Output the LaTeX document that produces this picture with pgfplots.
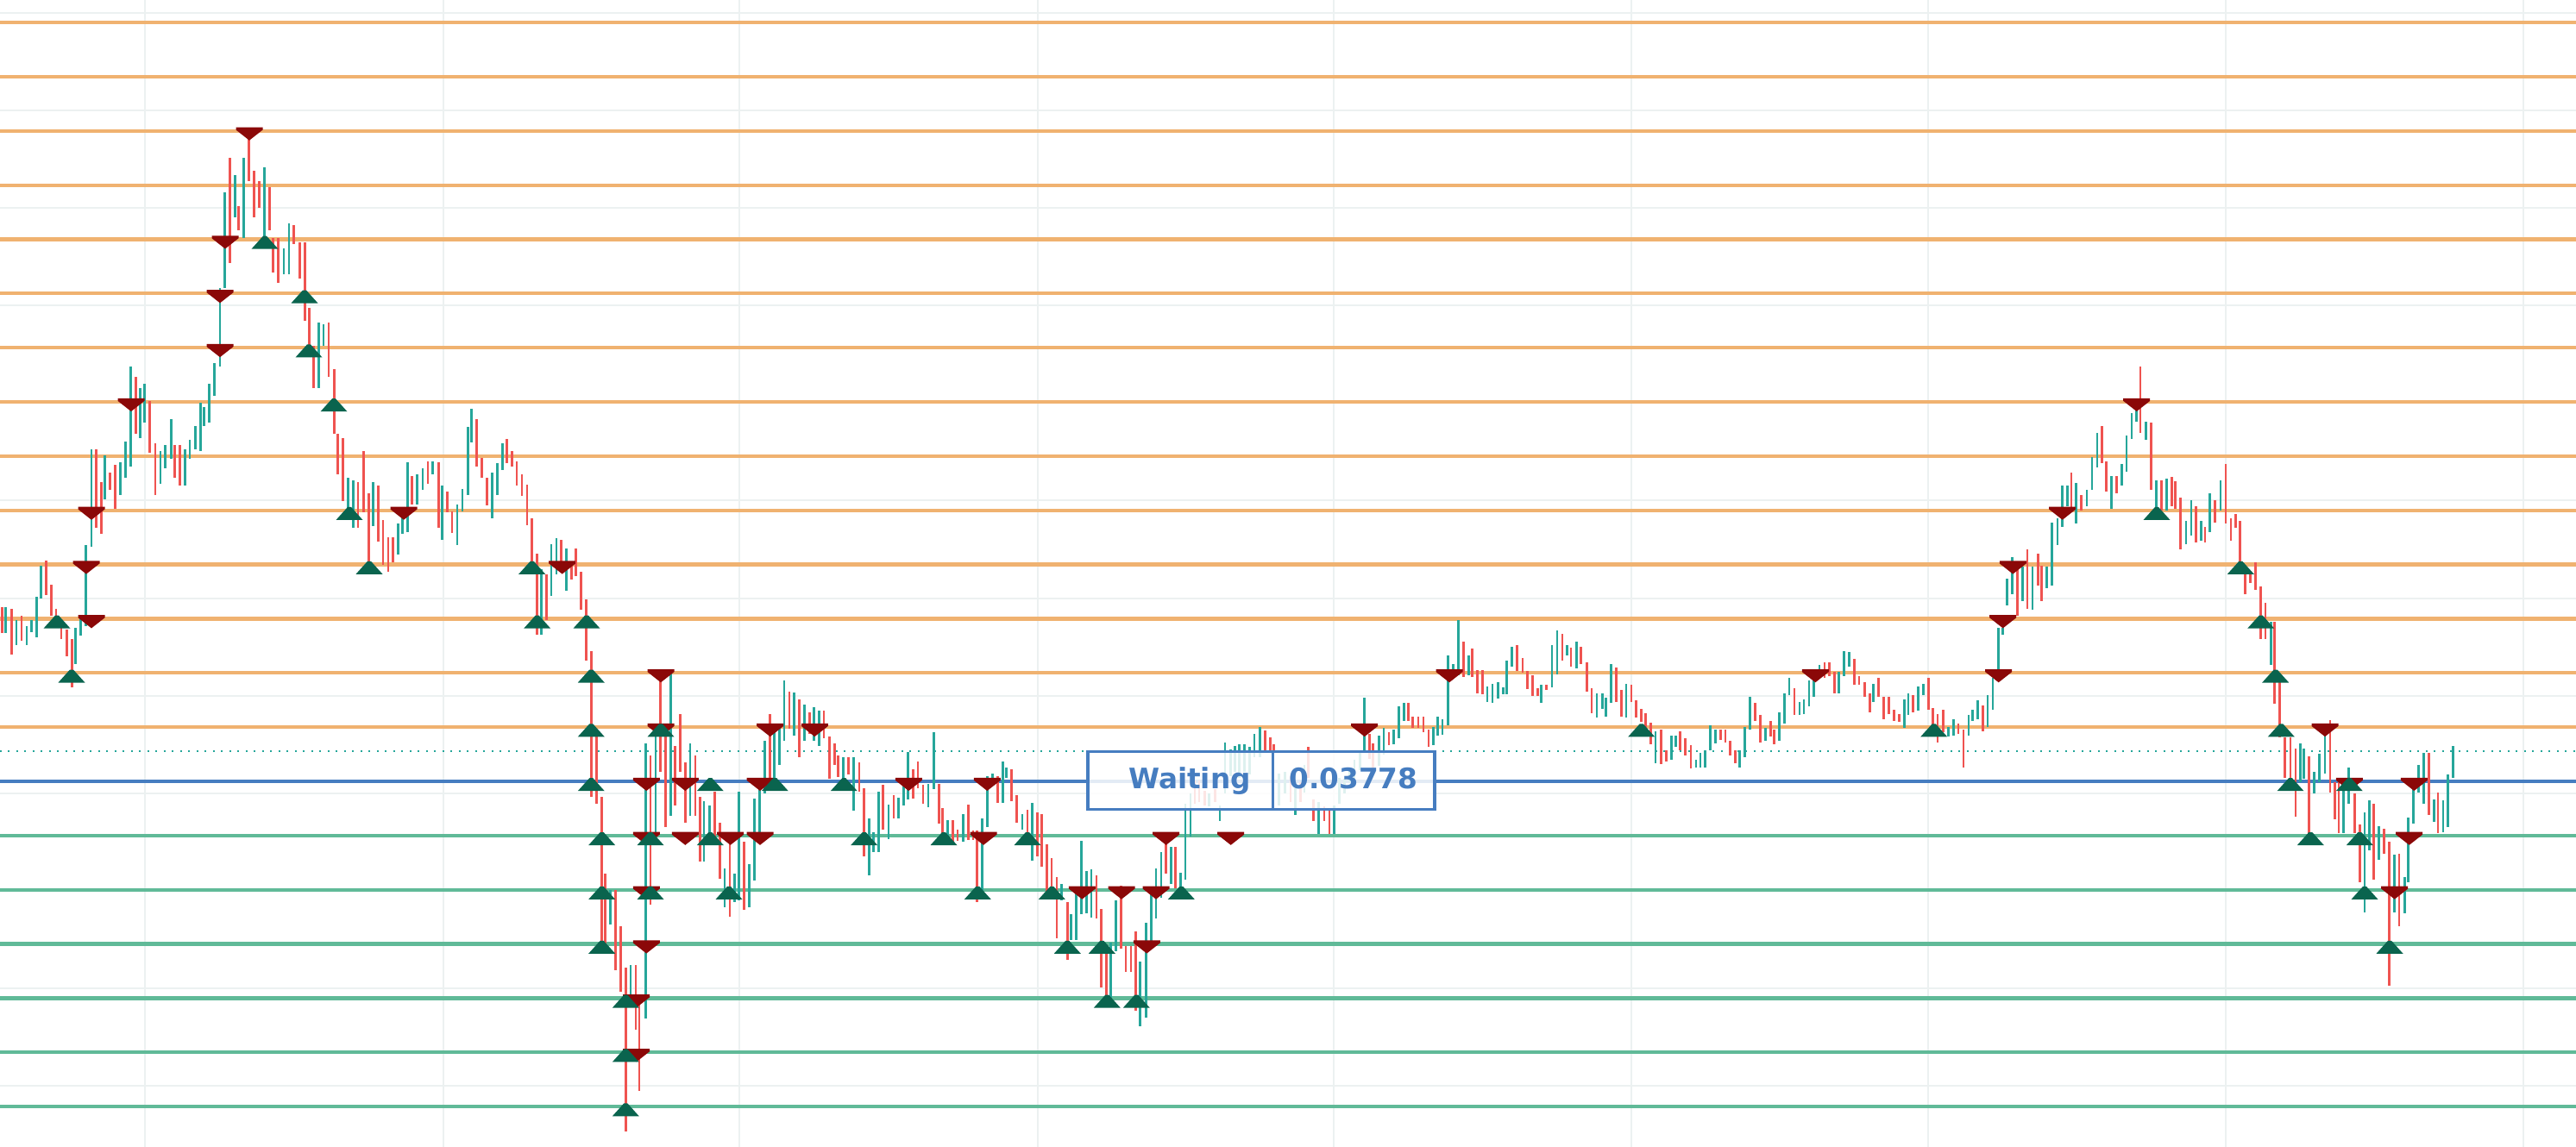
\documentclass[border=0pt]{standalone}
\usepackage{pgfplots}
\pgfplotsset{compat=1.18}
\usepackage{pgfplotstable}
\usepackage{fontspec}
\setmainfont{DejaVu Sans}
\definecolor{cred}{RGB}{239,83,80}
\definecolor{cgreen}{RGB}{38,166,154}
\definecolor{lvlorange}{RGB}{240,178,112}
\definecolor{lvlgreen}{RGB}{96,186,152}
\definecolor{lvlblue}{RGB}{70,125,192}
\definecolor{mred}{RGB}{139,8,8}
\definecolor{mgreen}{RGB}{10,100,78}
\definecolor{gridc}{RGB}{236,241,241}
\pgfdeclareplotmark{sellm}{%
  \pgfpathmoveto{\pgfpoint{-1.55mm}{0.42mm}}%
  \pgfpathlineto{\pgfpoint{1.55mm}{0.42mm}}%
  \pgfpathlineto{\pgfpoint{1.55mm}{0.12mm}}%
  \pgfpathlineto{\pgfpoint{0mm}{-1.1mm}}%
  \pgfpathlineto{\pgfpoint{-1.55mm}{0.12mm}}%
  \pgfpathclose\pgfusepathqfill}
\pgfdeclareplotmark{buym}{%
  \pgfpathmoveto{\pgfpoint{-0.2mm}{0.38mm}}%
  \pgfpathlineto{\pgfpoint{0.2mm}{0.38mm}}%
  \pgfpathlineto{\pgfpoint{1.55mm}{-1.12mm}}%
  \pgfpathlineto{\pgfpoint{-1.55mm}{-1.12mm}}%
  \pgfpathclose\pgfusepathqfill}

\pgfplotstableread{
x lo hi c
2.7 2.73 3.22 0
6.7 2.74 3.22 1
13.3 2.34 3.19 0
19.0 2.52 2.98 1
25.0 2.59 3.05 0
31.0 2.52 2.87 1
36.7 2.76 2.98 1
42.7 2.66 3.40 1
47.3 3.37 3.97 1
53.3 3.44 4.07 0
59.3 3.05 3.63 0
65.0 2.91 3.19 0
71.0 2.62 2.87 0
77.3 2.30 2.80 0
83.3 1.74 2.62 0
87.3 2.16 2.84 1
93.3 2.69 3.01 1
99.3 2.87 4.36 1
106.0 4.32 6.13 1
111.7 4.68 6.13 0
117.3 4.57 5.52 0
121.7 5.21 6.02 1
127.3 5.38 5.70 0
133.3 5.03 5.84 0
139.3 5.28 5.88 1
145.7 5.60 6.27 1
151.7 5.81 7.65 1
157.7 6.41 7.47 0
162.3 6.34 7.26 1
167.7 6.62 7.33 1
173.3 6.06 7.01 0
180.0 5.28 6.23 0
186.0 5.49 6.09 1
191.7 5.77 6.20 1
198.3 5.95 6.69 1
202.3 5.60 6.20 0
208.3 5.45 6.20 0
214.3 5.45 6.13 1
220.0 5.95 6.30 1
226.7 6.13 6.55 1
232.3 6.09 6.98 1
236.7 6.55 6.90 1
242.7 6.62 7.33 1
248.3 7.12 7.72 1
255.0 7.65 9.10 1
260.7 9.10 10.87 1
266.7 9.56 11.50 0
272.7 10.41 11.19 1
276.7 10.16 10.62 0
282.7 10.02 11.50 1
288.7 11.08 12.00 0
294.7 10.41 11.26 0
300.7 10.58 11.08 0
306.7 10.02 11.33 1
312.7 10.16 10.97 0
316.7 9.38 10.02 0
322.7 9.20 10.02 0
329.0 9.35 9.84 1
335.0 9.35 10.30 1
340.7 9.91 10.27 0
347.3 9.28 9.95 0
353.3 8.50 9.95 0
358.3 8.04 8.74 0
363.3 7.26 8.04 0
369.3 7.26 8.46 1
375.0 8.04 8.43 1
381.0 7.47 8.46 0
387.3 6.41 7.61 0
391.7 5.67 6.41 0
397.3 5.17 6.34 0
403.3 4.99 5.60 1
409.3 4.68 5.56 1
415.0 4.68 5.52 0
421.7 4.96 6.09 0
427.7 4.00 5.31 0
432.3 4.71 5.52 1
438.3 4.43 5.45 0
444.0 4.00 4.82 0
450.0 3.86 4.50 0
455.7 4.04 4.50 0
461.7 4.18 4.75 1
466.7 4.57 4.99 1
472.7 4.60 5.88 1
477.7 5.10 5.63 0
483.3 5.10 5.67 1
490.0 5.38 5.77 1
496.0 5.49 5.91 0
501.7 5.67 5.91 1
508.3 4.68 5.88 0
512.3 4.46 5.45 1
518.3 4.96 5.35 0
524.0 4.58 4.98 0
530.0 4.36 5.11 1
536.0 4.98 5.40 1
542.3 5.29 6.54 1
546.7 6.25 6.88 1
552.3 5.80 6.69 0
558.3 5.60 5.96 0
564.3 5.09 5.60 0
570.7 4.86 5.69 1
576.7 5.29 5.87 1
582.7 5.74 6.23 1
587.3 5.87 6.31 0
593.3 5.81 6.09 0
599.0 5.45 5.91 0
605.0 5.27 5.66 0
611.0 4.73 5.47 0
616.7 4.04 4.85 0
622.7 2.71 4.20 0
627.3 2.71 3.91 1
633.3 2.98 3.82 0
639.0 3.42 4.38 1
645.0 3.82 4.49 1
650.7 3.87 4.46 0
656.7 3.51 4.29 1
662.7 3.73 4.06 0
667.7 3.78 4.29 0
673.3 3.17 3.87 0
679.3 2.22 3.35 0
685.3 -0.28 2.40 0
691.7 -0.41 0.84 0
697.7 -3.08 -0.28 0
701.7 -2.99 -1.70 0
707.7 -2.64 -2.01 1
713.3 -3.48 -2.01 0
719.3 -3.88 -2.68 0
725.3 -6.46 -3.44 0
731.0 -4.06 -3.39 1
737.0 -4.59 -3.39 0
741.0 -5.71 -3.93 0
748.3 -4.37 0.70 1
754.0 -2.28 0.48 0
760.0 -0.99 0.88 1
765.7 0.17 1.91 0
771.7 -0.85 0.88 0
777.7 -0.63 2.00 1
782.7 -0.45 0.66 0
788.3 0.17 1.24 0
794.3 -0.77 0.35 0
800.0 -0.63 0.70 1
806.0 -0.63 0.48 0
811.7 -1.48 -0.28 0
816.0 -1.48 -0.36 1
822.7 -1.12 -0.45 1
828.3 -1.12 -0.19 0
834.3 -1.79 -0.77 0
840.0 -2.32 -1.61 1
846.0 -2.50 -1.08 0
851.7 -2.23 -1.70 1
856.7 -2.19 -0.19 1
862.7 -2.37 -1.12 0
868.3 -2.32 -1.52 1
874.3 -1.83 -0.32 1
880.7 -1.08 -0.05 1
886.7 -0.23 0.75 1
892.7 0.04 1.24 0
897.7 -0.05 1.02 1
903.3 0.30 1.02 1
909.0 0.75 1.86 1
915.0 0.97 1.66 0
920.7 0.84 1.64 1
926.7 0.44 1.51 0
932.7 0.75 1.42 1
938.3 0.88 1.28 0
943.3 0.75 1.37 1
949.3 0.66 1.30 1
955.0 0.79 1.30 0
961.7 0.04 0.82 0
967.7 0.30 0.70 0
971.7 0.08 0.48 0
977.7 -0.01 0.44 1
983.3 0.13 0.44 0
989.3 -0.54 0.44 1
996.0 -0.19 0.35 0
1001.7 -1.39 -0.12 0
1007.3 -1.74 -0.68 1
1012.3 -1.30 -0.94 1
1018.3 -1.30 -0.19 1
1023.3 -0.89 -0.07 0
1030.0 -1.07 -0.43 1
1036.0 -0.68 -0.25 0
1041.7 -0.68 -0.31 1
1047.7 -0.44 -0.07 1
1052.3 -0.33 0.54 1
1058.3 -0.32 0.22 0
1064.0 -0.12 0.37 0
1070.0 -0.41 -0.07 0
1076.0 -0.47 -0.04 1
1082.3 -0.15 0.90 1
1088.3 -0.78 -0.04 0
1092.7 -1.08 -0.49 0
1098.3 -1.02 -0.72 1
1104.3 -1.13 -0.72 0
1110.0 -1.10 -0.89 0
1116.7 -1.12 -0.60 1
1122.7 -1.08 -0.43 0
1128.0 -1.08 -0.91 0
1132.7 -2.22 -0.91 0
1138.3 -2.08 -0.68 1
1144.3 -0.84 0.09 1
1150.7 -0.02 0.14 1
1156.7 -0.39 0.09 0
1162.7 -0.39 0.37 1
1166.7 0.06 0.25 1
1172.7 -0.36 0.22 0
1178.7 -0.76 -0.25 0
1185.0 -0.89 -0.60 1
1191.0 -0.94 -0.52 0
1196.7 -1.47 -0.40 1
1202.7 -1.39 -0.57 0
1207.3 -1.58 -0.60 0
1213.3 -2.14 -1.16 0
1219.0 -2.11 -1.42 0
1225.0 -2.90 -1.76 0
1230.7 -2.19 -1.90 1
1237.3 -3.30 -2.22 0
1241.7 -2.93 -2.45 1
1247.3 -2.93 -2.06 1
1253.3 -2.45 -1.10 1
1259.3 -2.43 -1.66 1
1265.0 -2.51 -1.63 1
1271.0 -2.53 -1.74 0
1276.7 -3.80 -2.35 0
1282.7 -4.04 -3.14 0
1287.3 -4.04 -2.98 1
1293.3 -3.14 -2.19 1
1299.3 -3.09 -1.92 0
1305.0 -3.51 -3.04 0
1311.0 -3.51 -3.04 0
1316.7 -4.23 -2.77 0
1321.7 -4.52 -3.33 1
1328.3 -4.36 -2.61 1
1334.3 -2.98 -2.08 1
1340.0 -2.53 -1.61 1
1346.0 -2.14 -1.31 1
1351.7 -1.71 -1.08 0
1357.3 -1.90 -1.21 1
1362.3 -1.98 -1.21 0
1368.3 -2.06 -1.69 1
1374.0 -1.82 -0.41 1
1380.0 -1.02 -0.22 1
1385.0 -0.41 0.02 0
1390.0 -0.38 0.02 0
1396.7 -0.44 -0.17 0
1401.7 -0.46 -0.22 1
1408.3 -0.38 -0.14 0
1414.0 -0.73 -0.44 1
1420.0 -0.22 0.71 1
1426.7 0.10 0.59 1
1431.7 0.18 0.65 1
1436.7 0.07 0.68 1
1442.7 0.18 0.69 1
1448.3 0.12 0.63 1
1454.0 0.44 0.87 1
1460.7 0.44 1.00 1
1466.7 0.57 0.94 0
1472.7 0.57 0.81 0
1476.7 0.52 0.68 0
1482.7 -0.44 0.15 1
1489.3 -0.22 0.18 1
1496.0 -0.38 0.10 0
1501.7 -0.62 -0.12 1
1507.3 -0.38 -0.01 0
1512.0 -0.20 0.30 1
1516.7 0.07 0.63 0
1522.7 -0.73 -0.33 0
1528.3 -0.97 -0.38 1
1535.0 -0.73 -0.46 0
1541.0 -0.97 -0.54 0
1546.7 -0.97 -0.44 1
1552.7 -0.41 0.07 1
1558.3 -0.22 0.04 1
1564.3 -0.01 0.20 1
1570.0 0.04 0.39 1
1576.7 0.20 0.55 1
1581.7 0.52 1.55 1
1587.3 0.42 0.88 0
1591.7 0.26 0.70 0
1598.3 0.29 0.85 1
1604.0 0.50 0.99 1
1610.0 0.67 0.90 0
1615.7 0.69 0.96 1
1621.7 0.80 1.39 1
1627.7 1.12 1.44 1
1632.3 1.12 1.44 0
1637.7 0.99 1.20 0
1644.0 0.99 1.19 0
1650.0 0.91 1.19 0
1656.0 0.64 0.96 0
1661.7 0.67 1.01 1
1666.7 0.85 1.20 1
1672.0 0.86 1.15 1
1678.3 1.04 2.33 1
1684.3 1.95 2.17 1
1690.7 1.95 2.97 1
1696.7 1.93 2.57 0
1702.3 1.95 2.33 1
1706.7 1.92 2.45 0
1712.7 1.63 2.06 0
1718.3 1.60 2.06 0
1724.0 1.47 1.75 1
1730.0 1.45 1.79 1
1736.7 1.52 1.83 1
1742.3 1.60 1.74 1
1746.7 1.60 2.22 1
1752.3 2.11 2.49 1
1758.3 2.03 2.52 0
1765.0 2.01 2.28 0
1770.7 1.71 2.03 0
1776.7 1.58 1.95 0
1782.7 1.58 1.72 0
1786.7 1.44 1.79 1
1792.7 1.68 1.79 0
1799.0 1.74 2.52 1
1805.0 1.98 2.79 1
1811.0 2.22 2.72 0
1816.7 2.33 2.52 1
1821.0 2.11 2.46 0
1827.3 2.09 2.57 1
1832.7 2.17 2.49 0
1839.3 1.66 2.19 0
1845.0 1.26 1.72 0
1851.0 1.17 1.63 1
1857.3 1.34 1.62 1
1861.7 1.20 1.55 1
1867.3 1.44 2.17 1
1873.3 1.47 2.10 0
1879.3 1.20 1.68 0
1885.0 1.17 1.79 1
1891.0 1.47 1.79 0
1896.7 1.17 1.50 0
1902.3 1.09 1.34 0
1907.3 0.96 1.26 0
1913.3 0.69 1.08 0
1919.0 0.34 0.93 1
1925.7 0.32 0.96 0
1931.7 0.37 0.58 0
1937.3 0.40 0.85 1
1942.3 0.64 0.85 1
1947.7 0.58 0.93 0
1953.3 0.48 0.80 0
1960.0 0.24 0.67 0
1966.0 0.26 0.40 1
1971.0 0.26 0.53 1
1976.7 0.26 0.58 1
1982.3 0.58 1.04 1
1988.3 0.70 0.96 1
1994.3 0.77 0.96 0
2000.0 0.72 0.96 0
2005.7 0.48 0.75 0
2011.7 0.34 0.58 0
2016.7 0.26 0.58 1
2022.7 0.45 1.01 1
2028.3 0.95 1.56 1
2034.3 1.11 1.44 0
2040.3 0.71 1.23 0
2046.7 0.74 0.98 1
2052.3 0.82 1.12 0
2056.7 0.69 0.95 0
2062.3 0.74 1.27 1
2068.3 1.06 1.62 1
2074.0 1.59 1.91 1
2080.0 1.22 1.72 0
2086.0 1.22 1.46 1
2091.0 1.24 1.51 1
2097.0 1.38 1.86 1
2102.7 1.56 2.02 1
2109.0 1.96 2.15 1
2115.0 1.91 2.20 0
2120.7 1.94 2.20 0
2126.7 1.62 2.02 0
2131.7 1.62 2.02 1
2137.3 1.94 2.41 1
2143.3 2.12 2.38 1
2149.3 1.78 2.26 0
2155.0 1.78 1.94 0
2161.7 1.56 1.83 0
2167.3 1.27 1.62 0
2171.7 1.46 1.80 1
2177.3 1.56 1.91 0
2183.3 1.14 1.56 0
2189.3 1.24 1.56 0
2195.7 1.11 1.32 0
2201.3 1.09 1.24 0
2207.3 0.98 1.51 1
2212.0 1.22 1.62 1
2217.3 1.27 1.59 0
2223.3 1.30 1.75 1
2229.3 1.59 1.80 1
2235.7 1.32 1.91 0
2240.7 0.98 1.35 0
2246.0 0.71 1.24 0
2252.3 0.90 1.32 0
2258.3 0.82 1.01 1
2264.3 0.85 1.14 1
2270.0 0.87 1.06 0
2276.0 0.26 0.95 0
2282.0 0.85 1.22 1
2286.7 1.11 1.32 1
2292.3 1.14 1.49 1
2298.3 0.93 1.40 0
2304.0 1.01 1.59 1
2310.0 1.32 1.91 1
2316.7 1.96 2.84 1
2321.7 2.71 2.84 1
2326.7 3.24 3.74 1
2332.3 3.45 4.14 1
2338.3 3.05 4.06 0
2344.3 3.32 3.96 1
2350.0 3.19 4.28 0
2356.0 3.16 3.96 1
2362.7 3.61 4.20 0
2366.7 3.32 3.98 0
2372.7 3.56 3.96 1
2378.3 3.61 4.78 1
2385.0 4.36 4.86 1
2390.7 4.70 5.45 1
2396.7 5.07 5.45 1
2401.0 4.99 5.70 0
2406.7 4.76 5.50 1
2412.7 4.99 5.29 0
2419.0 5.07 5.37 1
2425.0 5.37 5.98 1
2431.0 5.79 6.43 1
2436.7 5.87 6.56 0
2441.7 5.34 5.91 0
2447.7 5.02 5.63 1
2453.3 5.31 5.63 0
2459.3 5.45 5.85 1
2465.0 5.71 6.38 1
2471.0 6.32 6.80 1
2476.7 6.64 6.94 1
2481.0 6.43 7.65 0
2487.3 6.30 6.64 1
2493.3 5.37 6.62 0
2499.3 4.94 5.55 1
2505.7 4.99 5.55 0
2511.7 4.99 5.58 1
2517.7 5.07 5.61 0
2521.7 5.02 5.53 0
2527.7 4.28 5.23 0
2534.0 4.38 4.81 1
2540.0 4.54 5.18 1
2545.7 4.41 5.07 0
2551.7 4.44 4.81 1
2556.0 4.41 4.70 0
2561.7 4.60 5.31 1
2567.7 4.78 5.18 0
2574.0 4.99 5.55 1
2580.0 4.76 5.85 0
2586.0 4.44 4.86 0
2591.7 4.68 4.94 0
2596.7 3.82 4.81 0
2602.3 3.45 3.88 0
2608.3 3.66 3.88 0
2614.3 3.53 4.04 0
2620.7 2.63 3.59 0
2626.0 2.63 3.29 0
2632.3 2.15 2.95 1
2636.7 1.43 2.95 0
2642.7 0.81 1.91 0
2648.7 0.07 0.81 0
2655.0 -0.12 0.81 0
2661.0 -0.65 0.60 0
2666.7 -0.01 0.70 1
2670.7 0.04 0.60 1
2676.7 -0.99 0.46 0
2682.7 -0.22 0.17 1
2688.7 -0.01 0.51 1
2695.0 0.15 0.94 1
2701.0 -0.20 1.13 0
2706.7 -0.70 -0.01 0
2711.0 -0.96 -0.01 0
2716.7 -0.96 0.00 1
2722.7 -0.41 0.25 1
2729.3 -0.96 -0.22 0
2735.3 -1.86 -0.80 0
2741.0 -2.42 -0.57 1
2746.7 -1.28 -0.35 1
2751.3 -1.81 -0.41 0
2757.3 -1.44 -0.83 1
2763.3 -1.33 -0.88 0
2769.3 -3.77 -1.12 0
2775.7 -2.42 -1.36 1
2781.0 -2.68 -1.33 0
2787.3 -2.44 -1.76 1
2791.7 -1.86 -0.67 1
2797.3 -0.78 -0.06 1
2803.3 -0.20 0.31 1
2809.3 -0.41 0.52 1
2815.7 -0.62 0.52 0
2821.7 -0.75 -0.33 1
2826.0 -0.96 -0.20 0
2832.0 -0.94 -0.35 1
2837.7 -0.85 0.13 1
2843.7 0.07 0.65 1
}\candles

\pgfplotstableread{
x y
100 4
106 3
106 5
152 7
255 8
255 9
261 10
289 12
468 5
651.7 4
737.7 -4
737.7 -5
749.3 0
749.3 -1
749.3 -2
749.3 -3
766 2
766 1
794.3 0
794.3 -1
846.7 -1
881 -1
881 0
892.7 1
944.3 1
1053.3 0
1140 -1
1144.3 0
1254.3 -2
1300 -2
1329.3 -3
1340 -2
1351.7 -1
1426.7 -1
1581.7 1
1680 2
2104.3 2
2316.7 2
2321.7 3
2333.3 4
2390.7 5
2476.7 7
2695 1
2723.3 0
2775.7 -2
2792.7 -1
2798.3 0
}\sells

\pgfplotstableread{
x y
66 3
83 2
307 10
353 9
358 8
387 7
405 5
428 4
616.7 4
622.7 3
680 3
685.3 2
685.3 1
685.3 0
697.7 -1
697.7 -2
697.7 -3
725.3 -4
725.3 -5
725.3 -6
754 -1
754 -2
766 1
823.3 0
823.3 -1
845 -2
898.3 0
978.3 0
1001.7 -1
1094 -1
1133.3 -2
1191 -1
1219.3 -2
1237.3 -3
1277.3 -3
1283.3 -4
1317.3 -4
1369.3 -2
1902.7 1
2241.7 1
2500 5
2597.3 4
2620.7 3
2637.7 2
2644.3 1
2655 0
2678.3 -1
2723.3 0
2735.3 -1
2741 -2
2770 -3
}\buys

\begin{document}
\begin{tikzpicture}
\begin{axis}[
  scale only axis, width=29.86cm, height=13.30cm,
  xmin=0, xmax=2986, ymin=-6.746, ymax=14.415,
  axis line style={draw=none},
  xtick={168,514,857,1203,1546,1891,2235,2580,2925},
  ytick={-5.62,-3.82,-2.02,-0.22,1.58,3.38,5.18,6.98,8.78,10.58,12.38,14.18},
  xticklabels={}, yticklabels={},
  tick style={draw=none}, major tick length=0pt,
  grid=major, major grid style={draw=gridc, line width=0.2mm},
  clip=true,
]
% grid levels
\pgfplotsinvokeforeach{1,...,14}{\addplot[lvlorange, line width=0.42mm, forget plot] coordinates {(0,#1) (2986,#1)};}
\pgfplotsinvokeforeach{-1,-2,...,-6}{\addplot[lvlgreen, line width=0.42mm, forget plot] coordinates {(0,#1) (2986,#1)};}
\addplot[lvlblue, line width=0.36mm] coordinates {(0,0) (2986,0)};
\addplot[cgreen, line width=0.2mm, dash pattern=on 0.2mm off 0.75mm] coordinates {(0,0.557) (2986,0.557)};
% candles (high-low bars)
\addplot[draw=none, mark=none, restrict expr to domain={\thisrow{c}}{0.5:1.5},
  error bars/.cd, y dir=both, y explicit, error mark=none,
  error bar style={draw=cgreen, line width=0.26mm, solid}]
  table[x=x, y expr={(\thisrow{lo}+\thisrow{hi})/2}, y error expr={(\thisrow{hi}-\thisrow{lo})/2}] {\candles};
\addplot[draw=none, mark=none, restrict expr to domain={\thisrow{c}}{-0.5:0.5},
  error bars/.cd, y dir=both, y explicit, error mark=none,
  error bar style={draw=cred, line width=0.26mm, solid}]
  table[x=x, y expr={(\thisrow{lo}+\thisrow{hi})/2}, y error expr={(\thisrow{hi}-\thisrow{lo})/2}] {\candles};
% fills
\addplot[only marks, mark=sellm, color=mred, fill=mred] table[x=x, y=y] {\sells};
\addplot[only marks, mark=buym, color=mgreen, fill=mgreen] table[x=x, y=y] {\buys};
% label box
\draw[lvlblue, line width=0.32mm, fill=white, fill opacity=0.85] (axis cs:1261,0.546) rectangle (axis cs:1663,-0.514);
\draw[lvlblue, line width=0.32mm] (axis cs:1475.5,0.546) -- (axis cs:1475.5,-0.514);
\node[anchor=base, text=lvlblue, font=\fontsize{9.3}{11}\selectfont\bfseries] at (axis cs:1379,-0.14) {Waiting};
\node[anchor=base, text=lvlblue, font=\fontsize{9.3}{11}\selectfont\bfseries] at (axis cs:1569,-0.14) {0.03778};
\end{axis}
\pgfresetboundingbox
\path[use as bounding box] (current axis.south west) rectangle (current axis.north east);
\end{tikzpicture}
\end{document}
